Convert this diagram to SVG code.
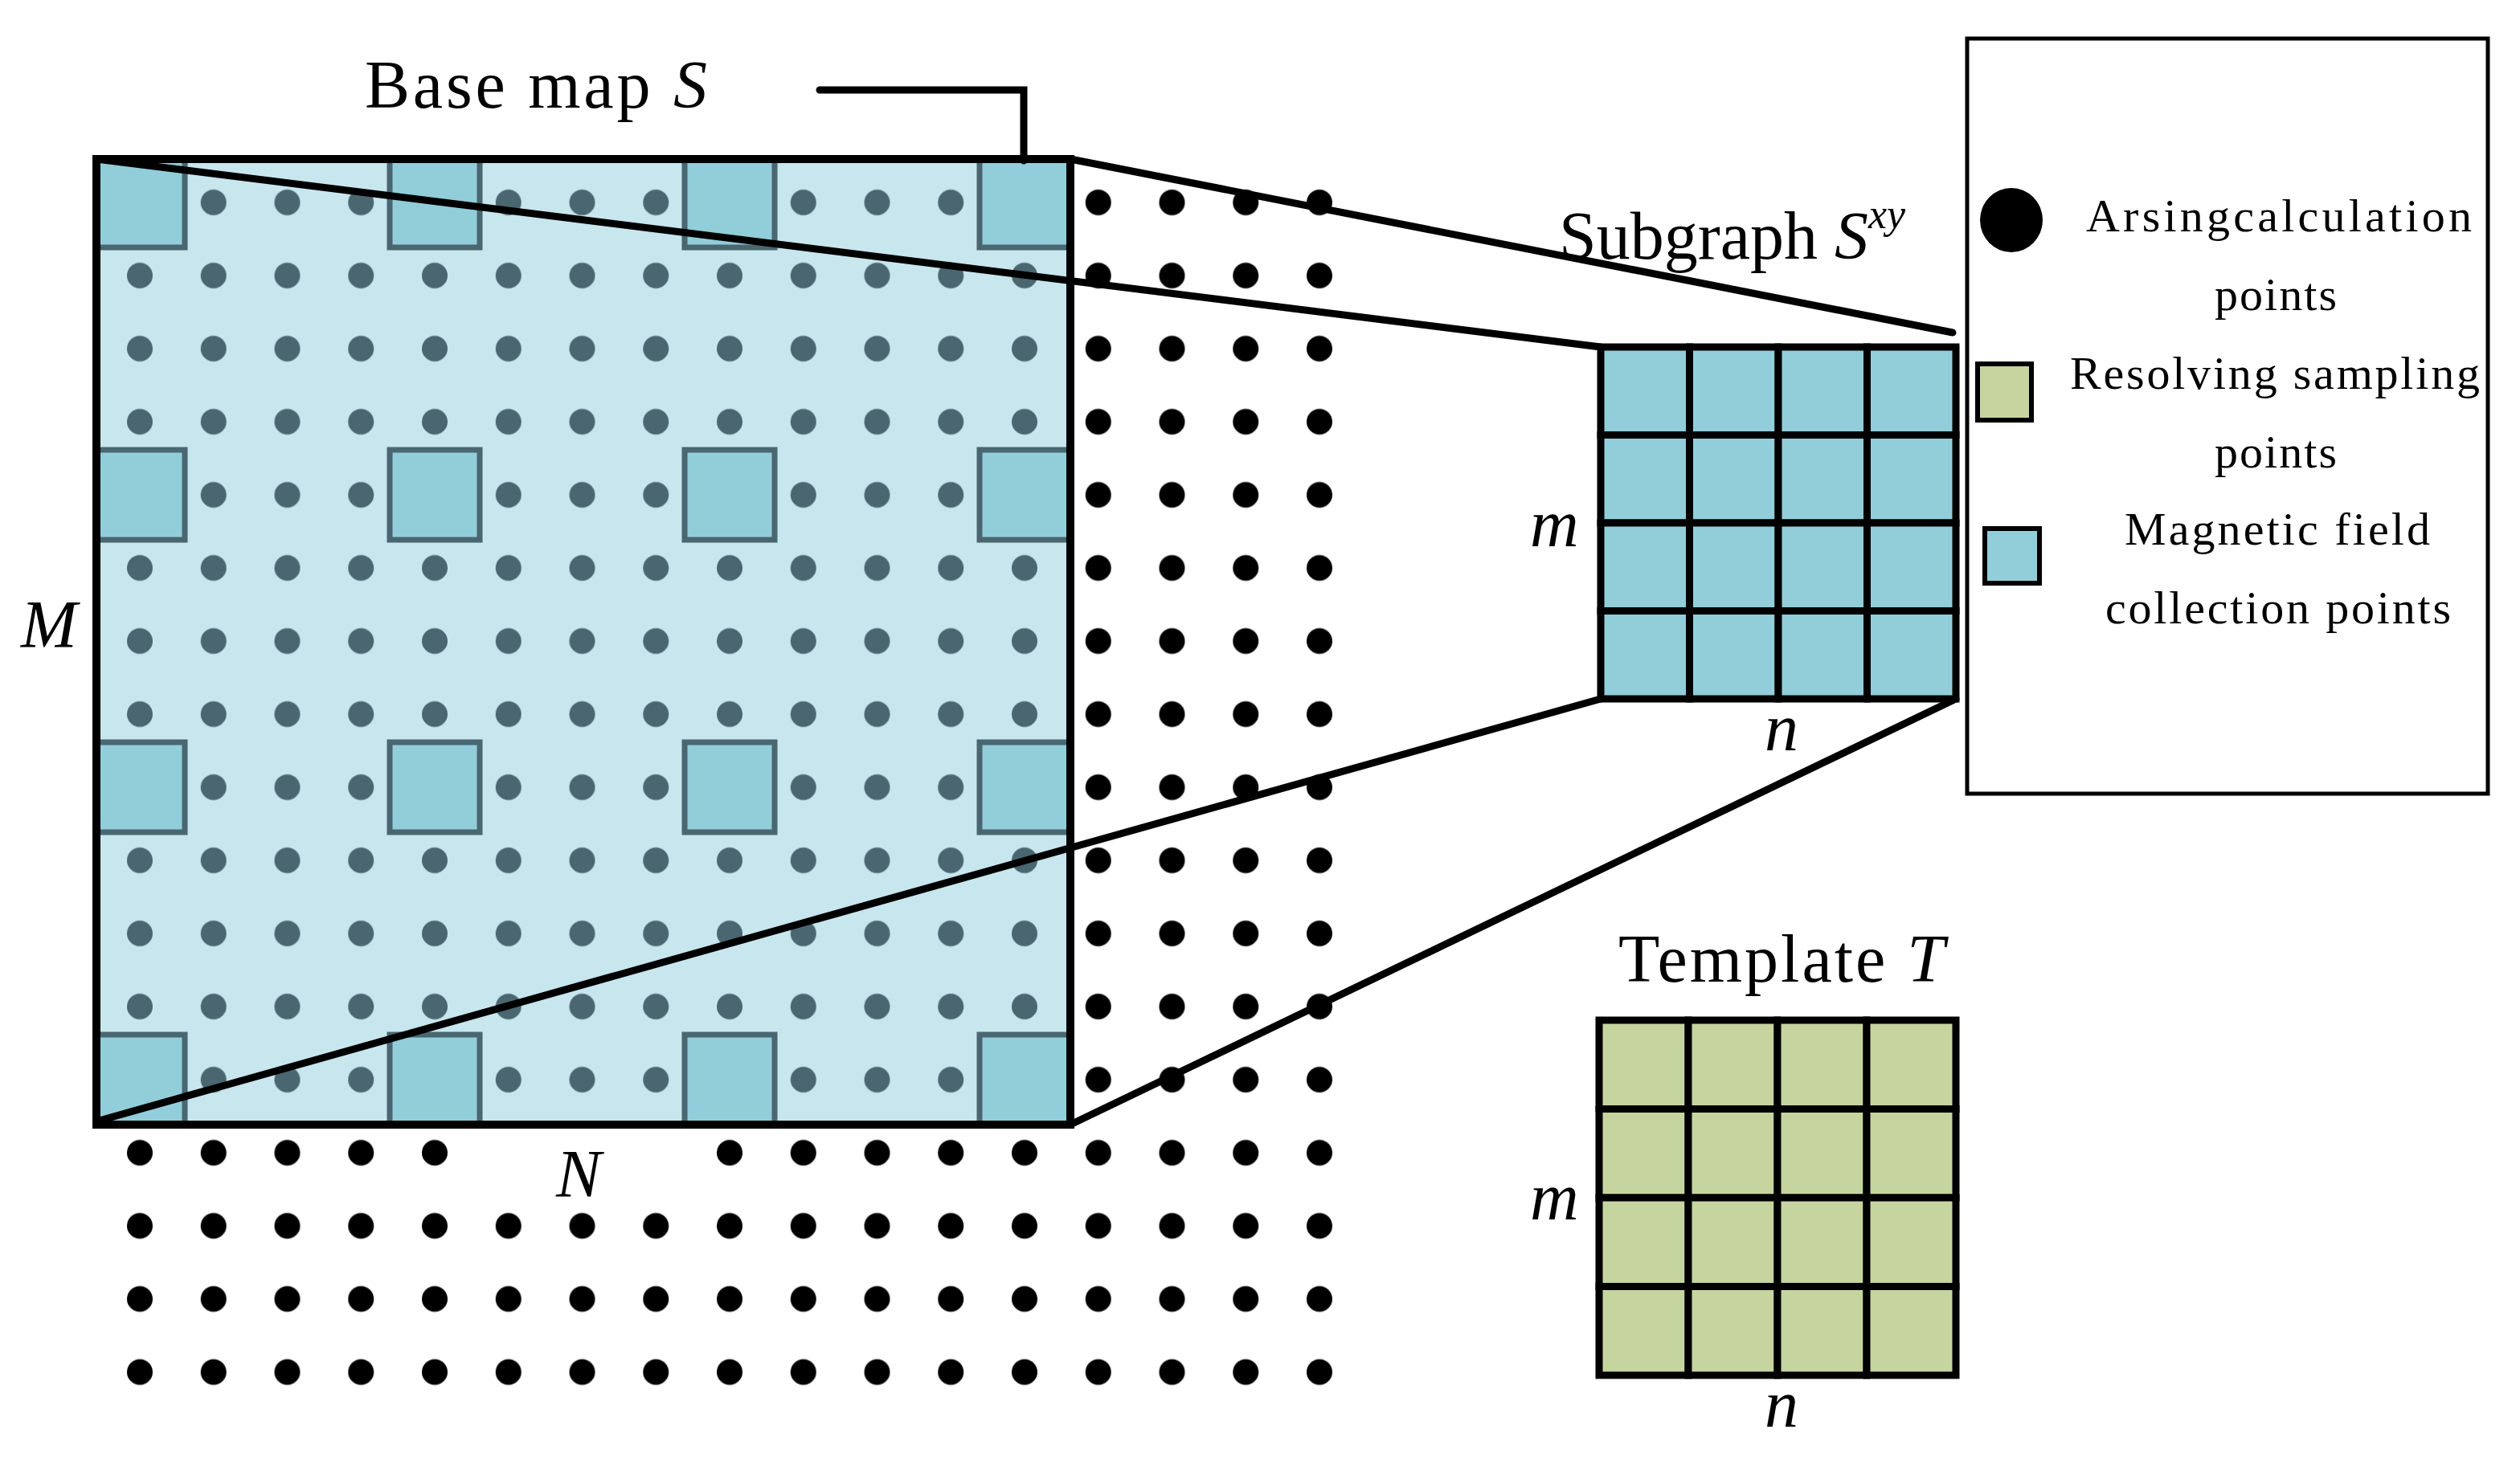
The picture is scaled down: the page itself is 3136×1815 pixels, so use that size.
<svg xmlns="http://www.w3.org/2000/svg" width="3136" height="1815" viewBox="0 0 3136 1815">
<style>
.t{font-family:"Liberation Serif","Times New Roman",serif;fill:#000}
.ln{stroke:#000;stroke-width:9;fill:none;stroke-linecap:round}
.sq{fill:#92CDDA;stroke:#4A6670;stroke-width:7}
.cb{fill:#92CDDA;stroke:#000;stroke-width:9}
.cg{fill:#C6D5A0;stroke:#000;stroke-width:9}
</style>
<defs>
<pattern id="pd" patternUnits="userSpaceOnUse" x="128.125" y="206.5" width="91.75" height="91"><circle cx="45.875" cy="45.5" r="16" fill="#4A6670"/></pattern>
<pattern id="pb" patternUnits="userSpaceOnUse" x="128.125" y="206.5" width="91.75" height="91"><circle cx="45.875" cy="45.5" r="16" fill="#000"/></pattern>
<clipPath id="fc"><rect x="120" y="198" width="1212" height="1202"/></clipPath>
</defs>
<rect width="3136" height="1815" fill="#fff"/>
<g id="outer-dots">
<rect x="1340" y="206" width="370" height="1194" fill="url(#pb)"/>
<rect x="128" y="1400" width="1582" height="360" fill="url(#pb)"/>
<rect x="600" y="1400" width="250" height="80" fill="#fff"/>
</g>
<g id="base-map">
<rect x="120" y="198" width="1212" height="1202" fill="#C8E6EE"/>
<rect x="120" y="198" width="1212" height="1202" fill="url(#pd)"/>
<g clip-path="url(#fc)">
<rect class="sq" x="118" y="196" width="112" height="112"/><rect class="sq" x="485" y="196" width="112" height="112"/><rect class="sq" x="852" y="196" width="112" height="112"/><rect class="sq" x="1219" y="196" width="112" height="112"/>
<rect class="sq" x="118" y="560" width="112" height="112"/><rect class="sq" x="485" y="560" width="112" height="112"/><rect class="sq" x="852" y="560" width="112" height="112"/><rect class="sq" x="1219" y="560" width="112" height="112"/>
<rect class="sq" x="118" y="924" width="112" height="112"/><rect class="sq" x="485" y="924" width="112" height="112"/><rect class="sq" x="852" y="924" width="112" height="112"/><rect class="sq" x="1219" y="924" width="112" height="112"/>
<rect class="sq" x="118" y="1288" width="112" height="112"/><rect class="sq" x="485" y="1288" width="112" height="112"/><rect class="sq" x="852" y="1288" width="112" height="112"/><rect class="sq" x="1219" y="1288" width="112" height="112"/>
</g>
<rect x="120" y="198" width="1212" height="1202" fill="none" stroke="#000" stroke-width="10"/>
<text class="t" x="454" y="134" font-size="84" textLength="426">Base  map <tspan font-style="italic">S</tspan></text>
<text class="t" x="26" y="806" font-size="84" font-style="italic">M</text>
<text class="t" x="692" y="1490" font-size="84" font-style="italic">N</text>
</g>
<g id="subgraph">
<rect class="cb" x="1992" y="432" width="110.5" height="109.5"/><rect class="cb" x="2102.5" y="432" width="110.5" height="109.5"/><rect class="cb" x="2213" y="432" width="110.5" height="109.5"/><rect class="cb" x="2323.5" y="432" width="110.5" height="109.5"/>
<rect class="cb" x="1992" y="541.5" width="110.5" height="109.5"/><rect class="cb" x="2102.5" y="541.5" width="110.5" height="109.5"/><rect class="cb" x="2213" y="541.5" width="110.5" height="109.5"/><rect class="cb" x="2323.5" y="541.5" width="110.5" height="109.5"/>
<rect class="cb" x="1992" y="651" width="110.5" height="109.5"/><rect class="cb" x="2102.5" y="651" width="110.5" height="109.5"/><rect class="cb" x="2213" y="651" width="110.5" height="109.5"/><rect class="cb" x="2323.5" y="651" width="110.5" height="109.5"/>
<rect class="cb" x="1992" y="760.5" width="110.5" height="109.5"/><rect class="cb" x="2102.5" y="760.5" width="110.5" height="109.5"/><rect class="cb" x="2213" y="760.5" width="110.5" height="109.5"/><rect class="cb" x="2323.5" y="760.5" width="110.5" height="109.5"/>
<text class="t" x="1940" y="322" font-size="84">Subgraph <tspan font-style="italic">S</tspan><tspan font-style="italic" font-size="52" dy="-38">xy</tspan></text>
<text class="t" x="1904" y="680" font-size="84" font-style="italic">m</text>
<text class="t" x="2196" y="934" font-size="84" font-style="italic">n</text>
</g>
<g id="template">
<rect class="cg" x="1990" y="1270" width="111" height="110.5"/><rect class="cg" x="2101" y="1270" width="111" height="110.5"/><rect class="cg" x="2212" y="1270" width="111" height="110.5"/><rect class="cg" x="2323" y="1270" width="111" height="110.5"/>
<rect class="cg" x="1990" y="1380.5" width="111" height="110.5"/><rect class="cg" x="2101" y="1380.5" width="111" height="110.5"/><rect class="cg" x="2212" y="1380.5" width="111" height="110.5"/><rect class="cg" x="2323" y="1380.5" width="111" height="110.5"/>
<rect class="cg" x="1990" y="1491" width="111" height="110.5"/><rect class="cg" x="2101" y="1491" width="111" height="110.5"/><rect class="cg" x="2212" y="1491" width="111" height="110.5"/><rect class="cg" x="2323" y="1491" width="111" height="110.5"/>
<rect class="cg" x="1990" y="1601.5" width="111" height="110.5"/><rect class="cg" x="2101" y="1601.5" width="111" height="110.5"/><rect class="cg" x="2212" y="1601.5" width="111" height="110.5"/><rect class="cg" x="2323" y="1601.5" width="111" height="110.5"/>
<text class="t" x="2014" y="1222" font-size="84" textLength="406">Template <tspan font-style="italic">T</tspan></text>
<text class="t" x="1904" y="1518" font-size="84" font-style="italic">m</text>
<text class="t" x="2196" y="1776" font-size="84" font-style="italic">n</text>
</g>
<g id="legend">
<rect x="2448" y="48" width="648" height="940" fill="#fff" stroke="#000" stroke-width="5"/>
<ellipse cx="2503" cy="274" rx="39" ry="40" fill="#000"/>
<rect x="2461" y="453" width="67" height="70" fill="#C6D5A0" stroke="#000" stroke-width="6"/>
<rect x="2470" y="658" width="68" height="68" fill="#92CDDA" stroke="#000" stroke-width="6"/>
<g class="t" font-size="58">
<text x="2596" y="288" textLength="480">Arsingcalculation</text>
<text x="2756" y="386" textLength="152">points</text>
<text x="2576" y="484" textLength="510">Resolving sampling</text>
<text x="2756" y="582" textLength="152">points</text>
<text x="2644" y="678" textLength="380">Magnetic field</text>
<text x="2620" y="776" textLength="430">collection points</text>
</g>
</g>
<g id="connectors">
<polyline class="ln" points="1020,112 1274,112 1274,200"/>
<line class="ln" x1="120" y1="198" x2="1992" y2="432"/>
<line class="ln" x1="1332" y1="198" x2="2430" y2="414"/>
<line class="ln" x1="120" y1="1396" x2="1992" y2="870"/>
<line class="ln" x1="1332" y1="1400" x2="2434" y2="870"/>
</g>
</svg>
